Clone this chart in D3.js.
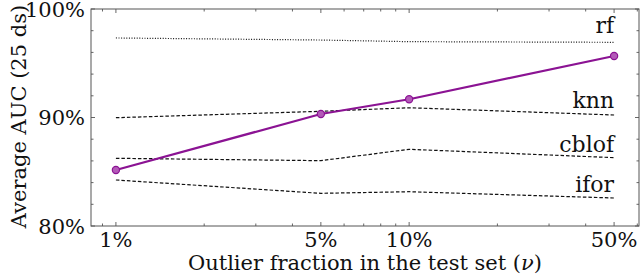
<!DOCTYPE html>
<html>
<head>
<meta charset="utf-8">
<script src="https://cdn.jsdelivr.net/npm/d3@7"></script>
<style>
  body { margin: 0; background: #fff; }
  svg { display: block; font-family: "DejaVu Serif", serif; }
</style>
</head>
<body>
<div id="chart"></div>
<script>
// outlier fraction in the test set (%)
const fractions = [1, 5, 10, 50];
const xTickLabels = ["1%", "5%", "10%", "50%"];
const yTicks = [80, 90, 100];

// average AUC (%) per baseline
const rf = [97.33, 97.14, 96.99, 96.93];
const knn = [89.98, 90.57, 90.9, 90.23];
const cblof = [86.24, 86.02, 87.07, 86.3];
const ifor = [84.24, 83.01, 83.16, 82.58];
const ours = [85.16, 90.32, 91.68, 95.67];

// where the right-hand labels sit (AUC value of the baseline of the text)
const labelAt = [97.8, 90.88, 86.82, 83.13];

const baselines = [
  { name: "rf", values: rf, dash: "1,1.6" },
  { name: "knn", values: knn, dash: "3.5,2" },
  { name: "cblof", values: cblof, dash: "3.5,2" },
  { name: "ifor", values: ifor, dash: "3.5,2" }
];

const width = 640, height = 276;
const margin = { top: 9, right: 1, bottom: 50, left: 91 };
const innerW = width - margin.left - margin.right;
const innerH = height - margin.top - margin.bottom;

const svg = d3.select("#chart")
  .append("svg")
  .attr("width", width)
  .attr("height", height);

const g = svg.append("g").attr("transform", `translate(${margin.left},${margin.top})`);

// log axis with 5% padding each side, like matplotlib autoscale
const lo = Math.log10(d3.min(fractions)), hi = Math.log10(d3.max(fractions));
const pad = (hi - lo) * 0.05;
const x = d3.scaleLog()
  .domain([Math.pow(10, lo - pad), Math.pow(10, hi + pad)])
  .range([0, innerW]);
const y = d3.scaleLinear().domain([80, 100]).range([innerH, 0]);

const minorX = [0.9, 2, 3, 4, 6, 7, 8, 9, 20, 30, 40, 60].filter(v => v >= x.domain()[0] && v <= x.domain()[1]);
const minorY = d3.range(82, 100, 2).filter(v => v % 10 !== 0);

const tickColor = "#666";

// ticks on all four sides, pointing inward
function drawTicks(vals, len) {
  vals.forEach(v => {
    g.append("line").attr("x1", x(v)).attr("x2", x(v)).attr("y1", innerH).attr("y2", innerH - len).attr("stroke", tickColor);
    g.append("line").attr("x1", x(v)).attr("x2", x(v)).attr("y1", 0).attr("y2", len).attr("stroke", tickColor);
  });
}
function drawYTicks(vals, len) {
  vals.forEach(v => {
    g.append("line").attr("y1", y(v)).attr("y2", y(v)).attr("x1", 0).attr("x2", len).attr("stroke", tickColor);
    g.append("line").attr("y1", y(v)).attr("y2", y(v)).attr("x1", innerW).attr("x2", innerW - len).attr("stroke", tickColor);
  });
}
drawTicks(fractions, 4);
drawTicks(minorX, 2.5);
drawYTicks(yTicks, 4);
drawYTicks(minorY, 2.5);

// baselines
const line = d3.line().x((d, i) => x(fractions[i])).y(d => y(d));

baselines.forEach(b => {
  g.append("path")
    .datum(b.values)
    .attr("d", line)
    .attr("fill", "none")
    .attr("stroke", "#111")
    .attr("stroke-width", 1.2)
    .attr("stroke-dasharray", b.dash);
});

baselines.forEach((b, i) => {
  g.append("text")
    .attr("x", x(fractions[fractions.length - 1]))
    .attr("y", y(labelAt[i]))
    .attr("text-anchor", "end")
    .attr("font-size", 22)
    .attr("fill", "#111")
    .text(b.name);
});

// our method
const purple = "#8b1393";
g.append("path")
  .datum(ours)
  .attr("d", line)
  .attr("fill", "none")
  .attr("stroke", purple)
  .attr("stroke-width", 2.2);

g.selectAll(".pt")
  .data(ours)
  .enter()
  .append("circle")
  .attr("cx", (d, i) => x(fractions[i]))
  .attr("cy", d => y(d))
  .attr("r", 3.6)
  .attr("fill", "#b35ab8")
  .attr("stroke", purple)
  .attr("stroke-width", 1.2);

// frame
g.append("rect")
  .attr("width", innerW)
  .attr("height", innerH)
  .attr("fill", "none")
  .attr("stroke", "#555")
  .attr("stroke-width", 1);

// tick labels
g.selectAll(".xl")
  .data(fractions)
  .enter()
  .append("text")
  .attr("x", d => x(d))
  .attr("y", innerH + 21)
  .attr("text-anchor", "middle")
  .attr("font-size", 21)
  .attr("fill", "#111")
  .text((d, i) => xTickLabels[i]);

g.selectAll(".yl")
  .data(yTicks)
  .enter()
  .append("text")
  .attr("x", -6)
  .attr("y", d => y(d) + 7.5)
  .attr("text-anchor", "end")
  .attr("font-size", 21)
  .attr("fill", "#111")
  .text(d => d + "%");

// axis titles
const xTitle = svg.append("text")
  .attr("x", margin.left + innerW / 2)
  .attr("y", 270)
  .attr("text-anchor", "middle")
  .attr("font-size", 21)
  .attr("fill", "#111");
xTitle.append("tspan").text("Outlier fraction in the test set (");
xTitle.append("tspan").attr("font-style", "italic").text("ν");
xTitle.append("tspan").text(")");

svg.append("text")
  .attr("transform", `translate(26,${margin.top + innerH / 2 - 1}) rotate(-90)`)
  .attr("text-anchor", "middle")
  .attr("font-size", 21)
  .attr("fill", "#111")
  .text("Average AUC (25 ds)");
</script>
</body>
</html>
